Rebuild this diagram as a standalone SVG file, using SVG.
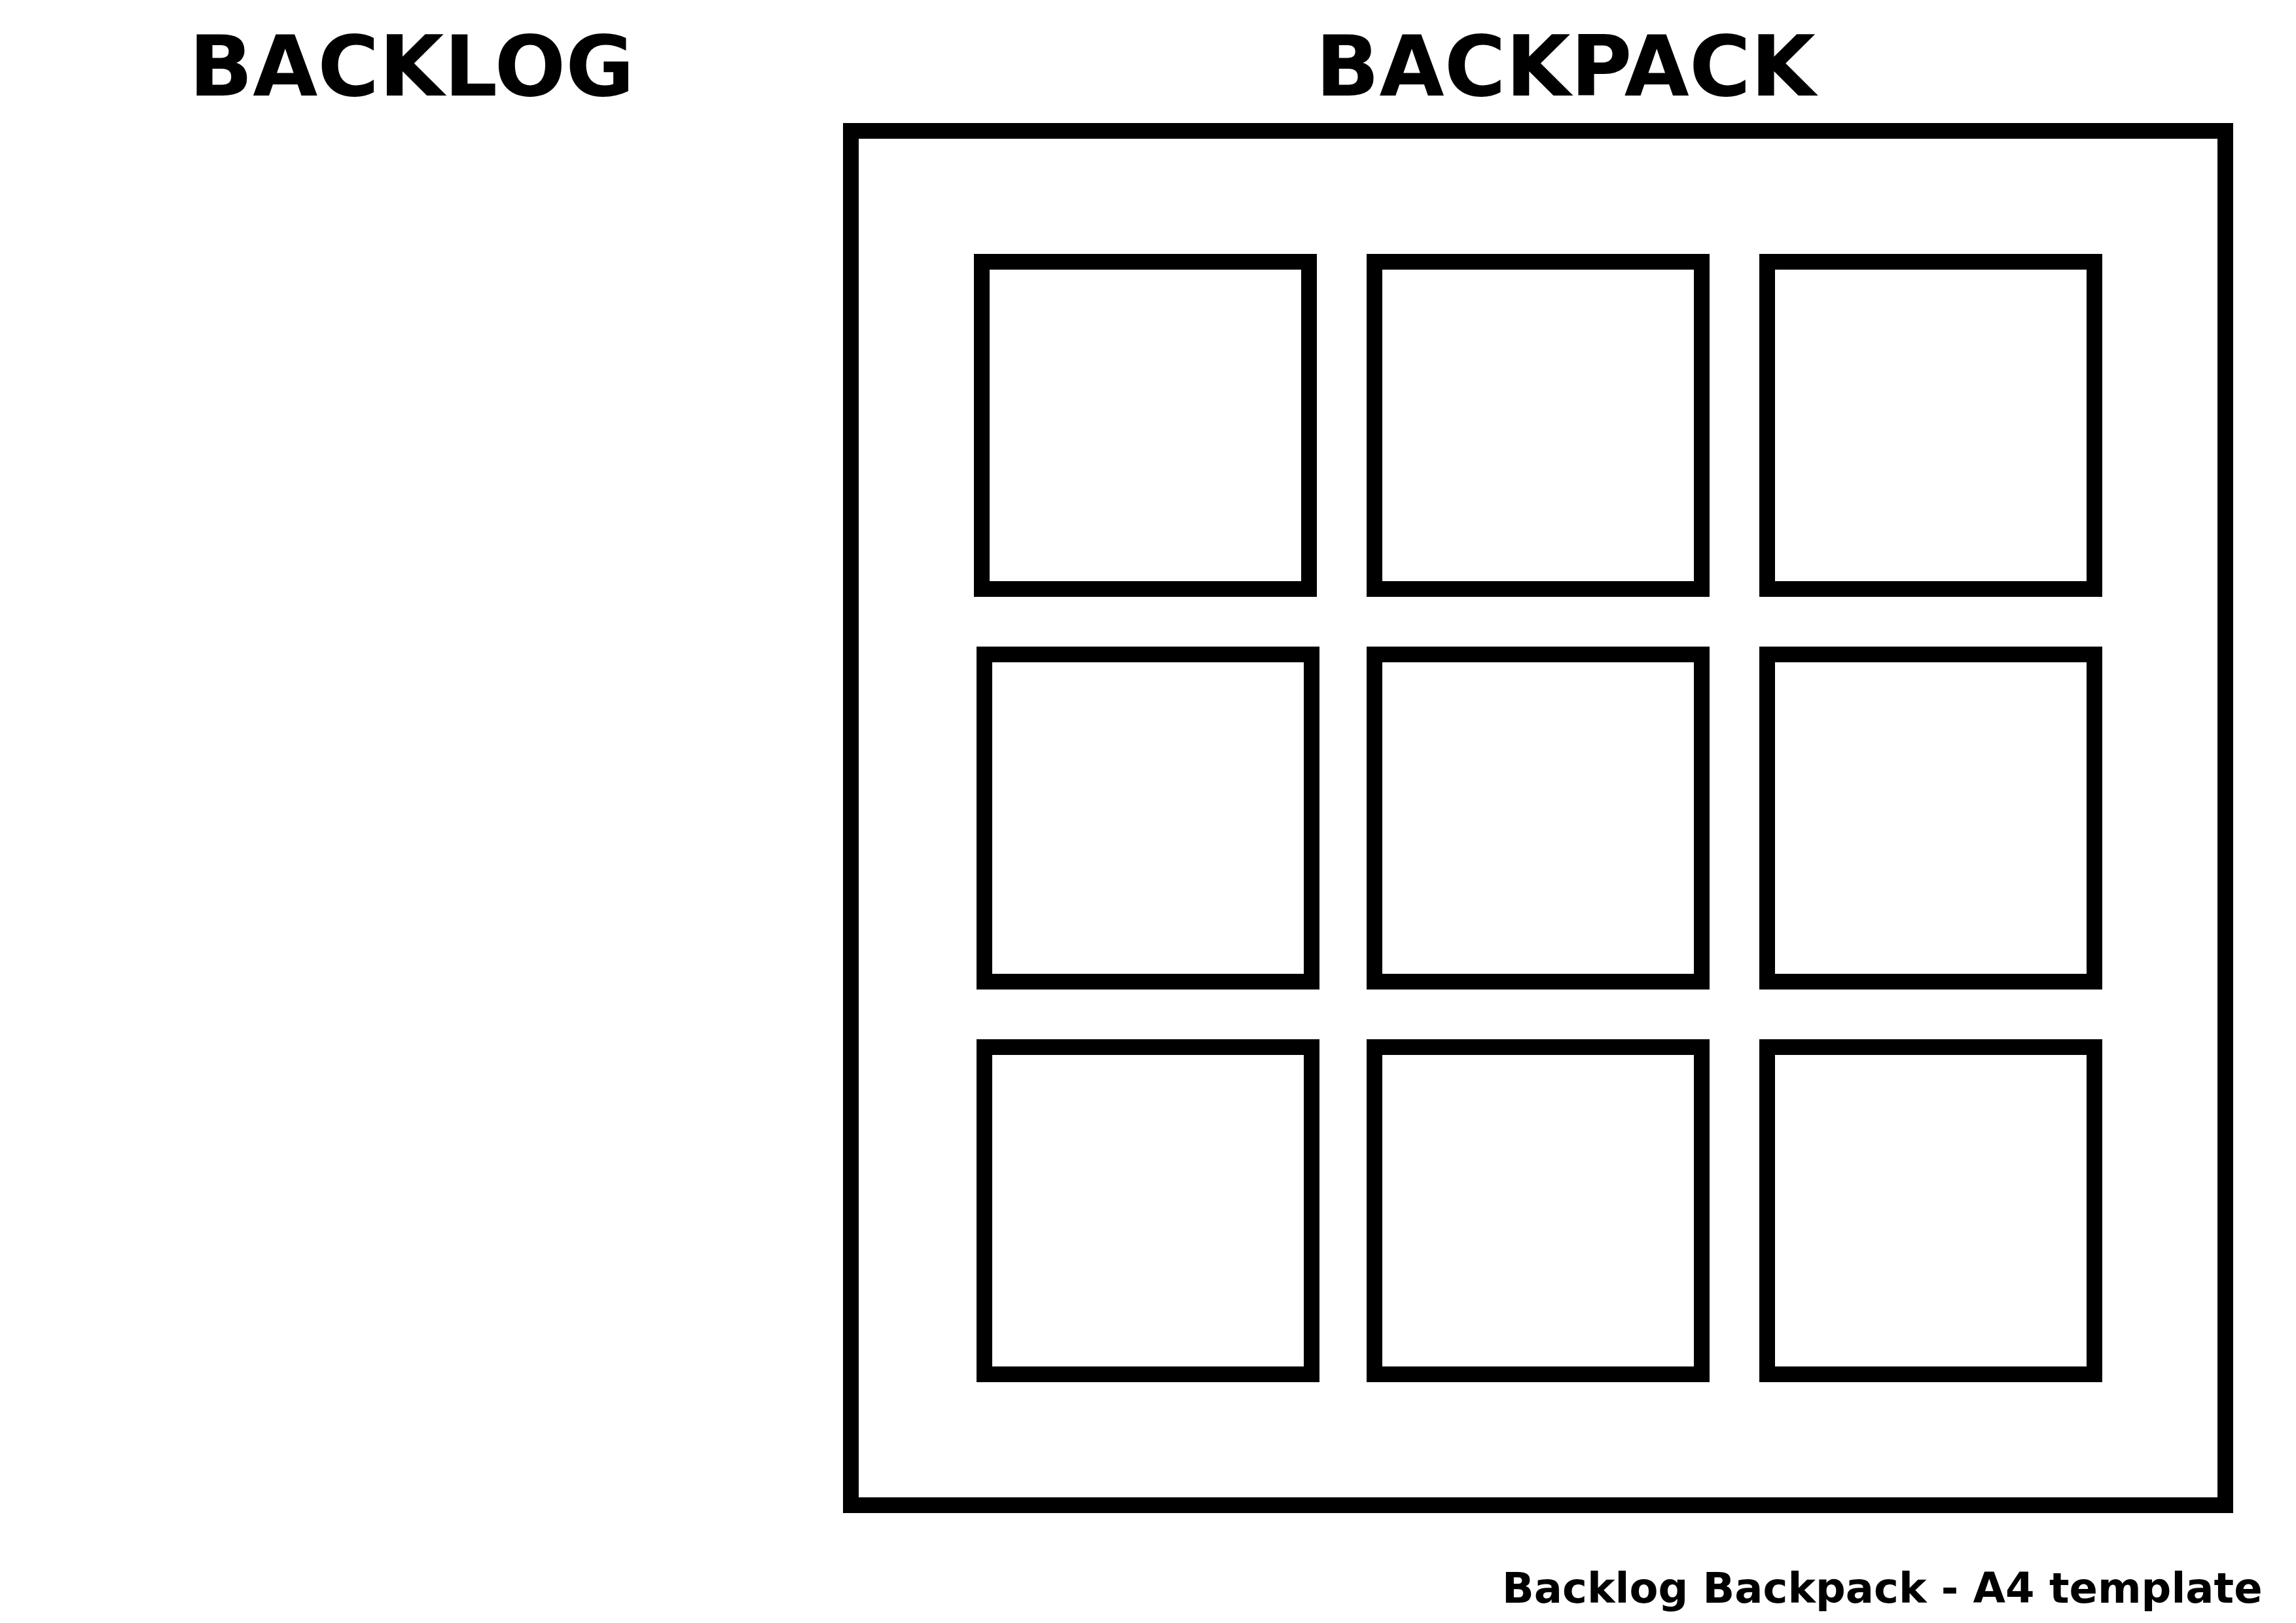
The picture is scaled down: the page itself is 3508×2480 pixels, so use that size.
<svg xmlns="http://www.w3.org/2000/svg" width="3508" height="2480" viewBox="0 0 3508 2480">
<style>
.title{font-family:"DejaVu Sans","Liberation Sans",sans-serif;font-weight:bold;font-size:128px;fill:#000;text-anchor:middle}
.foot{font-family:"DejaVu Sans","Liberation Sans",sans-serif;font-weight:bold;font-size:64px;fill:#000}
.box{fill:none;stroke:#000;stroke-width:24}
</style>
<rect x="0" y="0" width="3508" height="2480" fill="#fff"/>
<g id="backlog-title"><text class="title" x="629" y="146">BACKLOG</text></g>
<g id="backpack-title"><text class="title" x="2392" y="146">BACKPACK</text></g>
<g id="backpack"><rect class="box" x="1300" y="200" width="2100" height="2100"/></g>
<g id="slot-1-1"><rect class="box" x="1500" y="400" width="500" height="500"/></g>
<g id="slot-1-2"><rect class="box" x="2100" y="400" width="500" height="500"/></g>
<g id="slot-1-3"><rect class="box" x="2700" y="400" width="500" height="500"/></g>
<g id="slot-2-1"><rect class="box" x="1504" y="1000" width="500" height="500"/></g>
<g id="slot-2-2"><rect class="box" x="2100" y="1000" width="500" height="500"/></g>
<g id="slot-2-3"><rect class="box" x="2700" y="1000" width="500" height="500"/></g>
<g id="slot-3-1"><rect class="box" x="1504" y="1600" width="500" height="500"/></g>
<g id="slot-3-2"><rect class="box" x="2100" y="1600" width="500" height="500"/></g>
<g id="slot-3-3"><rect class="box" x="2700" y="1600" width="500" height="500"/></g>
<g id="connectors"></g>
<g id="footer"><text class="foot" x="2295" y="2449">Backlog Backpack - A4 template</text></g>
</svg>
